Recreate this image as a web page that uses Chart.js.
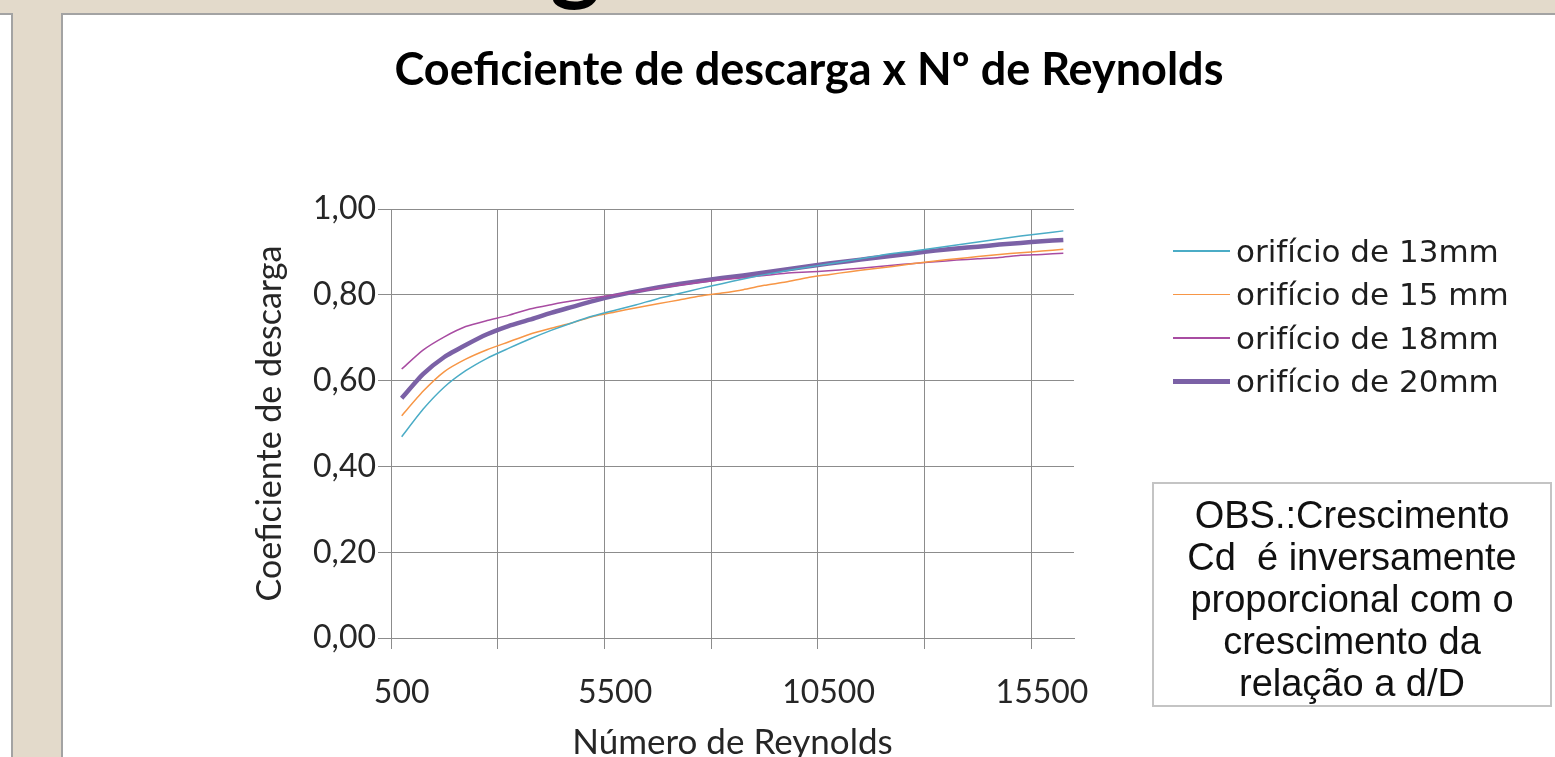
<!DOCTYPE html>
<html>
<head>
<meta charset="utf-8">
<script src="https://cdn.jsdelivr.net/npm/chart.js@4.4.1/dist/chart.umd.min.js"></script>
<style>
html, body { margin: 0; padding: 0; width: 1555px; height: 757px; overflow: hidden; background: #e3dacb; }
#strip { position: absolute; left: 0; top: 13px; width: 11px; height: 760px; background: #fff; border-right: 2px solid #a3a3a3; border-top: 2px solid #a3a3a3; }
#heading { position: absolute; left: 550px; top: -92px; font: bold 96px Lato, sans-serif; color: #000; line-height: 1; }
#panel { position: absolute; left: 61px; top: 13px; width: 1494px; height: 760px; background: #fff; border-left: 2px solid #a3a3a3; border-top: 2px solid #a3a3a3; }
#legend { position: absolute; left: 1173px; top: 229px; font: 31px "DejaVu Sans", sans-serif; color: #1e1e1e; }
#legend .item { height: 43.5px; display: flex; align-items: center; }
#legend .sw { width: 57px; margin-right: 6px; }
#obs { position: absolute; left: 1152px; top: 482px; width: 396px; height: 211px; border: 2px solid #c4c4c4;
       font: 38px "Liberation Sans", Arial, sans-serif; line-height: 42px; text-align: center; color: #111;
       padding-top: 10px; box-sizing: content-box; white-space: pre; }
</style>
</head>
<body>
<div id="heading">g</div>
<div id="strip"></div>
<div id="panel"><canvas id="mycanvas" width="1492" height="749"></canvas></div>
<div id="legend"></div>
<div id="obs">OBS.:Crescimento
Cd  é inversamente
proporcional com o
crescimento da
relação a d/D</div>
<script>
// numero de Reynolds (categorias do eixo x)
var reynolds = ['500','1000','1500','2000','2500','3000','3500','4000','4500','5000',
	'5500','6000','6500','7000','7500','8000','8500','9000','9500','10000',
	'10500','11000','11500','12000','12500','13000','13500','14000','14500','15000',
	'15500','16000'];
var xTickLabels = ['500','5500','10500','15500'];
var yTickValues = [0, 0.2, 0.4, 0.6, 0.8, 1.0];

// coeficiente de descarga
var cd13 = [0.469,0.533,0.585,0.623,0.652,0.675,0.697,0.717,0.735,0.751,
	0.764,0.777,0.791,0.803,0.815,0.826,0.837,0.847,0.856,0.864,
	0.872,0.880,0.888,0.896,0.902,0.909,0.916,0.923,0.930,0.937,
	0.943,0.949];
var cd15 = [0.518,0.575,0.621,0.650,0.672,0.690,0.708,0.722,0.735,0.750,
	0.760,0.770,0.779,0.788,0.797,0.804,0.812,0.822,0.830,0.840,
	0.847,0.854,0.860,0.866,0.873,0.879,0.884,0.889,0.894,0.898,
	0.902,0.906];
var cd18 = [0.627,0.671,0.702,0.726,0.740,0.752,0.767,0.777,0.786,0.793,
	0.800,0.807,0.815,0.822,0.829,0.835,0.840,0.845,0.850,0.853,
	0.856,0.860,0.864,0.869,0.873,0.877,0.881,0.884,0.887,0.892,
	0.894,0.897];
var cd20 = [0.559,0.615,0.655,0.683,0.708,0.727,0.742,0.758,0.772,0.786,
	0.798,0.808,0.817,0.825,0.832,0.839,0.845,0.852,0.859,0.866,
	0.873,0.879,0.885,0.891,0.897,0.903,0.908,0.912,0.917,0.921,
	0.925,0.928];

var gridColor = '#8c8c8c';
var textColor = '#262626';

var chartdata = {
	labels: reynolds,
	datasets: [
		{ label: 'orifício de 13mm', data: cd13, borderColor: '#4bacc6', backgroundColor: '#4bacc6', borderWidth: 1.5 },
		{ label: 'orifício de 15 mm', data: cd15, borderColor: '#f79646', backgroundColor: '#f79646', borderWidth: 1.5 },
		{ label: 'orifício de 18mm', data: cd18, borderColor: '#a84ca2', backgroundColor: '#a84ca2', borderWidth: 1.5 },
		{ label: 'orifício de 20mm', data: cd20, borderColor: '#7b61a6', backgroundColor: '#7b61a6', borderWidth: 4.5 }
	]
};

var ctx = document.getElementById('mycanvas');
var lineGraph = new Chart(ctx, {
	type: 'line',
	data: chartdata,
	options: {
		responsive: false,
		animation: false,
		elements: { point: { radius: 0 }, line: { tension: 0.2 } },
		layout: { padding: 0 },
		plugins: {
			legend: { display: false },
			tooltip: { enabled: false },
			title: {
				display: true,
				text: 'Coeficiente de descarga x Nº de Reynolds',
				color: '#000',
				font: { family: 'Lato', size: 45, weight: 'bold' },
				padding: { top: 28, bottom: 112 }
			}
		},
		scales: {
			x: {
				offset: true,
				grid: {
					offset: true,
					tickLength: 11,
					color: function(c) { return c.index % 5 === 0 ? gridColor : 'rgba(0,0,0,0)'; }
				},
				border: { color: gridColor },
				ticks: {
					autoSkip: false,
					maxRotation: 0,
					padding: 24,
					color: textColor,
					font: { family: 'Lato', size: 32 },
					callback: function(val) {
						var lab = this.getLabelForValue(val);
						return xTickLabels.indexOf(lab) >= 0 ? lab : '';
					}
				},
				title: {
					display: true,
					text: 'Número de Reynolds',
					color: textColor,
					font: { family: 'Lato', size: 35 },
					padding: 0
				},
				afterFit: function(scale) { scale.height = 126; }
			},
			y: {
				min: 0,
				max: 1,
				afterBuildTicks: function(scale) {
					scale.ticks = yTickValues.map(function(v) { return { value: v }; });
				},
				grid: { color: gridColor, tickLength: 13 },
				border: { color: gridColor },
				ticks: {
					padding: 2,
					color: textColor,
					font: { family: 'Lato', size: 32 },
					callback: function(v) { return v.toFixed(2).replace('.', ','); }
				},
				title: {
					display: true,
					text: 'Coeficiente de descarga',
					color: textColor,
					font: { family: 'Lato', size: 34 },
					padding: { top: 187, bottom: 0 }
				},
				afterFit: function(scale) { scale.width = 328; }
			},
			// espaco vazio a direita para a legenda e a nota
			yr: {
				position: 'right',
				display: true,
				min: 0,
				max: 1,
				grid: { display: false },
				border: { display: false },
				ticks: { display: false },
				afterFit: function(scale) { scale.width = 481; }
			}
		}
	}
});

// legenda em html, gerada a partir dos datasets
var legendBox = document.getElementById('legend');
chartdata.datasets.forEach(function(ds) {
	var item = document.createElement('div');
	item.className = 'item';
	var sw = document.createElement('span');
	sw.className = 'sw';
	sw.style.height = ds.borderWidth + 'px';
	sw.style.background = ds.borderColor;
	var txt = document.createElement('span');
	txt.textContent = ds.label;
	item.appendChild(sw);
	item.appendChild(txt);
	legendBox.appendChild(item);
});
</script>
</body>
</html>
